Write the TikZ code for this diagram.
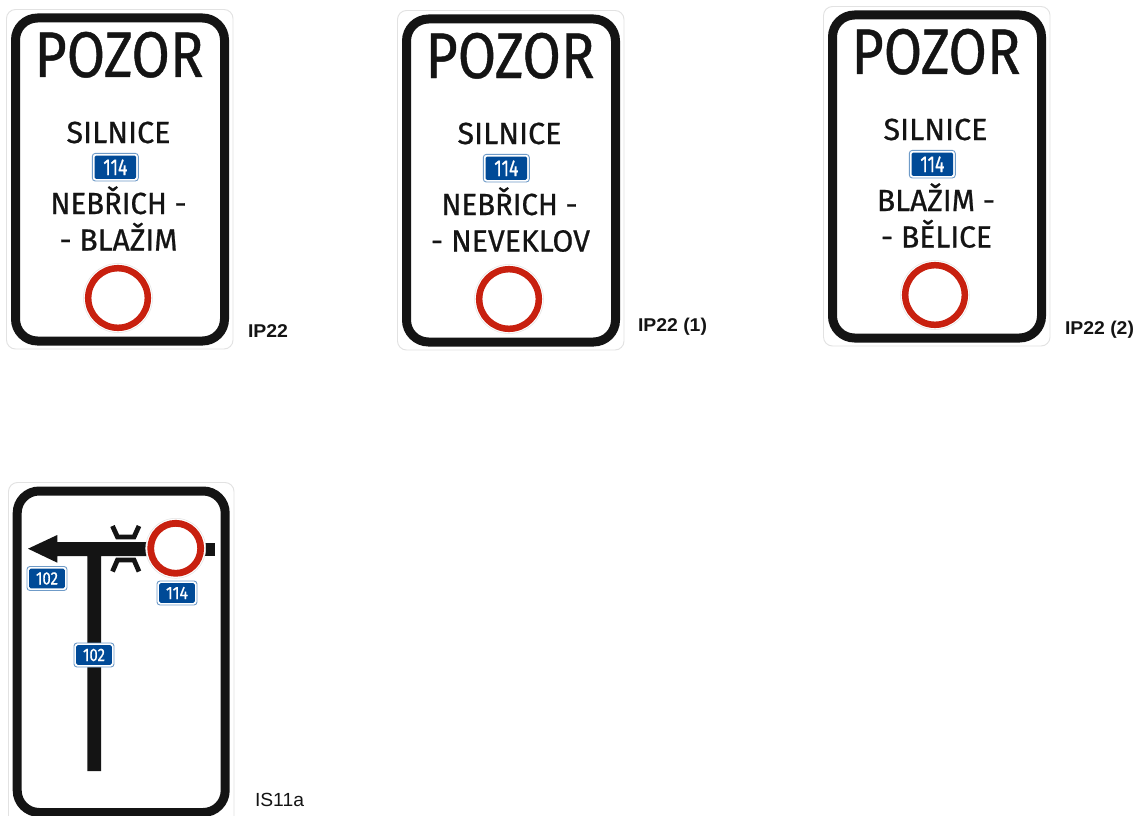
\documentclass[tikz,border=0pt]{standalone}
\usepackage{fontspec}
\usepackage{graphicx}
\setmainfont{Fira Sans}[FakeBold=0.7]
\newfontfamily\lblfont{Liberation Sans}
\definecolor{signblack}{HTML}{141414}
\definecolor{signred}{HTML}{C8200F}
\definecolor{plateblue}{HTML}{004A97}
\definecolor{plateedge}{HTML}{6F9BC8}
\definecolor{edgegray}{HTML}{E2E2E2}
\newcommand{\fitw}[3]{\resizebox{#1pt}{\height}{\fontsize{#2}{#2}\selectfont #3}}
\tikzset{
  x=1pt,y=-1pt,
  sheet/.style={draw=edgegray,line width=0.9pt,fill=white,rounded corners=9pt},
  frameline/.style={draw=signblack,line width=9pt,rounded corners=22pt},
  signtext/.style={anchor=base,inner sep=0pt,outer sep=0pt,text=signblack},
  code/.style={anchor=base west,inner sep=0pt,outer sep=0pt,text=signblack},
  ring/.style={draw=signred,fill=white},
  halo/.style={draw=edgegray,line width=0.5pt,fill=white},
  road/.style={fill=signblack},
  bridge/.style={draw=signblack,line width=4.8pt},
}
% plate: name, centre x, centre y, half width, half height, text width, font size, text
\newcommand{\plate}[8]{%
  \draw[plateedge,line width=0.9pt,fill=white,rounded corners=3pt] (#2-#4,#3-#5) rectangle (#2+#4,#3+#5);
  \fill[plateblue,rounded corners=1.5pt] (#2-#4+2.2,#3-#5+2.2) rectangle (#2+#4-2.2,#3+#5-2.2);
  \node[anchor=center,inner sep=0pt,text=white] (#1) at (#2,#3) {\fitw{#6}{#7}{#8}};
}
% sign: prefix, dx, dy, text1, w1, cx1, text2, w2, cx2
\newcommand{\pozorsign}[9]{%
  \begin{scope}[shift={(#2,#3)}]
    \draw[sheet] (6.5,9.5) rectangle (233,349);
    \draw[frameline] (15.5,18) rectangle (224.5,341);
    \node[signtext] (#1pozor) at (119,77) {\fitw{169}{64.5}{POZOR}};
    \node[signtext] (#1silnice) at (118.5,143) {\fitw{104}{30.5}{SILNICE}};
    \plate{#1plate}{115.3}{167.2}{23}{13.8}{24}{23}{114}
    \node[signtext] (#1lineA) at (#6,214) {\fitw{#5}{30.5}{#4}};
    \node[signtext] (#1lineB) at (#9,250.5) {\fitw{#8}{30.5}{#7}};
    \fill[halo] (118,298) circle (34.5pt);
    \draw[ring,line width=6.5pt] (118,298) circle (29.8pt);
  \end{scope}%
}
\begin{document}
\begin{tikzpicture}
\useasboundingbox (0,0) rectangle (1138,816);
\fill[white] (0,0) rectangle (1138,816);
\clip (0,0) rectangle (1138,816);

\pozorsign{a}{0}{0}{NEBŘICH -}{136}{118.5}{- BLAŽIM}{118}{118.5}
\pozorsign{b}{391}{1}{NEBŘICH -}{136}{118.5}{- NEVEKLOV}{159}{119.5}
\pozorsign{c}{817}{-3}{BLAŽIM -}{118}{119}{- BĚLICE}{111}{119.5}

\node[code] (lblA) at (248,337) {\lblfont\fitw{40}{18.5}{\bfseries IP22}};
\node[code] (lblB) at (638,331) {\lblfont\fitw{69}{18.5}{\bfseries IP22 (1)}};
\node[code] (lblC) at (1065,334) {\lblfont\fitw{69}{18.5}{\bfseries IP22 (2)}};
\node[code] (lblD) at (255,806) {\lblfont\fitw{49}{19}{IS11a}};

% IS11a sign
\draw[sheet] (8.5,482.5) rectangle (234,830);
\draw[frameline] (17.2,491) rectangle (225.2,812.5);
% roads
\fill[road] (28,548.7) -- (57.3,535) -- (57.3,542) -- (150,542) -- (150,556) -- (101,556) -- (101,771) -- (87.3,771) -- (87.3,556) -- (57.3,556) -- (57.3,562.7) -- cycle;
\fill[road] (200,542.5) rectangle (215,556);
% bridge
\draw[bridge] (112.5,526) -- (117.5,537) -- (134,537) -- (139,526);
\draw[bridge] (112.5,571.5) -- (117.5,560) -- (134,560) -- (139,571.5);
% restriction ring
\fill[halo] (175.7,548.3) circle (30pt);
\draw[ring,line width=6.8pt] (175.7,548.3) circle (25pt);
% plates
\plate{pA}{47}{578.5}{20}{12}{22}{18}{102}
\plate{pB}{177}{593}{20}{12}{22}{18}{114}
\plate{pC}{94}{655}{20}{12}{22}{18}{102}
\end{tikzpicture}
\end{document}
